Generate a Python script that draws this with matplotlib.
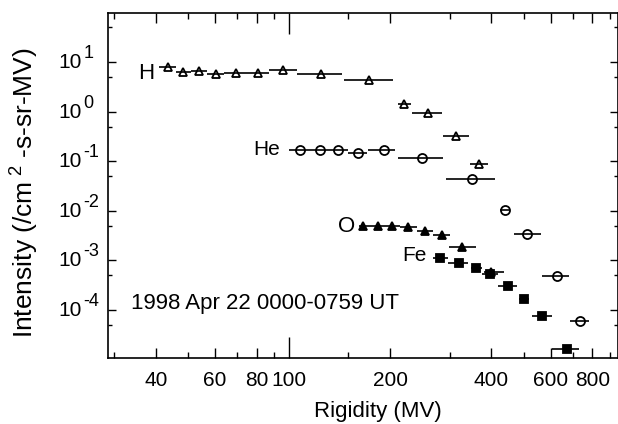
import numpy as np
import matplotlib
matplotlib.use("Agg")
import matplotlib.pyplot as plt
from matplotlib.ticker import FixedLocator, NullFormatter
from matplotlib.transforms import blended_transform_factory

plt.rcParams['font.family'] = ['Liberation Sans', 'DejaVu Sans']
plt.rcParams['mathtext.fontset'] = 'custom'
plt.rcParams['mathtext.rm'] = 'Liberation Sans'
plt.rcParams['mathtext.it'] = 'Liberation Sans'

# donnees
# H
h_x = [43.5, 48.3, 53.9, 60.6, 69.3, 80.6, 95.5, 124, 173, 220, 258, 314, 367]
h_lo = [41, 46, 51, 57, 64, 75, 87, 105, 145, 211, 232, 286, 345]
h_hi = [46, 51, 57, 64, 75, 87, 105, 143, 204, 231, 284, 343, 390]
h_y = [8.0, 6.2, 6.7, 5.7, 6.1, 5.9, 6.9, 5.7, 4.3, 1.41, 0.92, 0.32, 0.089]

# He
he_x = [107.8, 123.7, 140, 159.6, 190.9, 249, 349, 439, 512, 627, 735]
he_lo = [100, 114, 131, 150, 172, 211, 292, 425, 467, 567, 688]
he_hi = [114, 131, 150, 170, 207, 286, 409, 455, 561, 680, 782]
he_y = [0.166, 0.166, 0.166, 0.146, 0.166, 0.114, 0.044, 0.0104, 0.0034, 4.9e-4, 6.0e-5]

# O
o_x = [166, 183.5, 201.6, 225.5, 253.4, 284.3, 327.7, 398]
o_lo = [161, 175, 192, 213, 240, 268, 299, 379]
o_hi = [175, 192, 213, 240, 268, 300, 359, 436]
o_y = [5.0e-3, 5.0e-3, 4.95e-3, 4.63e-3, 3.85e-3, 3.3e-3, 1.88e-3, 5.7e-4]

# Fe
fe_x = [282, 320, 361, 395, 447, 500, 564, 671]
fe_lo = [268.6, 297, 347, 376, 418, 483, 527, 608]
fe_hi = [297, 340, 376, 418, 478, 518, 608, 730]
fe_y = [1.11e-3, 8.65e-4, 6.98e-4, 5.28e-4, 3.06e-4, 1.65e-4, 7.56e-5, 1.6e-5]

x_major = [40, 60, 80, 100, 200, 400, 600, 800]
x_minor = [30, 50, 70, 90, 150, 300, 500, 700, 900]
y_major = [1e-4, 1e-3, 1e-2, 1e-1, 1e0, 1e1]
y_minor = [5e-5, 5e-4, 5e-3, 5e-2, 5e-1, 5e0, 5e1]


def tracer(ax, x, lo, hi, y, marker, fc, ms):
    x = np.array(x)
    xerr = [x - np.array(lo), np.array(hi) - x]
    ax.errorbar(x, y, xerr=xerr, fmt=marker, color="k", mfc=fc, mec="k",
                ms=ms, mew=1.3, elinewidth=1.2, capsize=0)


fig = plt.figure(figsize=(6.18, 4.24), dpi=100)
ax = fig.add_axes([108/618, 1 - 358/424, 509.5/618, 345/424])
ax.set_xscale("log")
ax.set_yscale("log")

tracer(ax, h_x, h_lo, h_hi, h_y, "^", "none", 6)
tracer(ax, he_x, he_lo, he_hi, he_y, "o", "none", 6.5)
tracer(ax, o_x, o_lo, o_hi, o_y, "^", "k", 6)
tracer(ax, fe_x, fe_lo, fe_hi, fe_y, "s", "k", 5.5)

ax.set_xlim(28.8, 950)
ax.set_ylim(1.07e-5, 98)

ax.xaxis.set_major_locator(FixedLocator(x_major))
ax.xaxis.set_minor_locator(FixedLocator(x_minor))
ax.set_xticklabels([str(v) for v in x_major])
ax.xaxis.set_minor_formatter(NullFormatter())
ax.yaxis.set_major_locator(FixedLocator(y_major))
ax.yaxis.set_minor_locator(FixedLocator(y_minor))
ax.set_yticklabels([])
ax.yaxis.set_minor_formatter(NullFormatter())

ax.tick_params(which="both", direction="in", top=True, right=True, width=1)
ax.tick_params(axis="x", which="major", length=7, labelsize=15, pad=9)
ax.tick_params(axis="x", which="minor", length=4)
ax.tick_params(axis="y", which="major", length=6)
ax.tick_params(axis="y", which="minor", length=3)
for side in ["tick1line", "tick2line"]:
    getattr(ax.xaxis.get_major_ticks()[3], side).set_markersize(15)
for s in ax.spines.values():
    s.set_linewidth(1.2)

# etiquettes 10^n avec exposant presque plein format
trans = blended_transform_factory(ax.transAxes, ax.transData)
for v in y_major:
    e = int(round(np.log10(v)))
    ax.annotate("10", xy=(0, v), xycoords=trans, xytext=(-18.7, -4.3),
                textcoords="offset points", ha="right", va="baseline",
                fontsize=15)
    ax.annotate(str(e), xy=(0, v), xycoords=trans, xytext=(-17.6, 2.9),
                textcoords="offset points", ha="left", va="baseline",
                fontsize=13)

ax.text(39.5, 6.0, "H", ha="right", va="center", fontsize=16)
ax.text(94, 0.175, "He", ha="right", va="center", fontsize=15)
ax.text(157, 4.9e-3, "O", ha="right", va="center", fontsize=16)
ax.text(256, 1.26e-3, "Fe", ha="right", va="center", fontsize=15)
ax.text(0.046, 0.157, "1998 Apr 22 0000-0759 UT", transform=ax.transAxes,
        ha="left", va="center", fontsize=16)

ax.set_xlabel("Rigidity (MV)", fontsize=16, labelpad=8)
ax.xaxis.label.set_x(0.529)
ax.set_ylabel("Intensity (/cm$^{\\ 2}$ -s-sr-MV)", fontsize=19)
ax.yaxis.set_label_coords(-0.131, 0.48)

plt.savefig("out.png", dpi=100)
